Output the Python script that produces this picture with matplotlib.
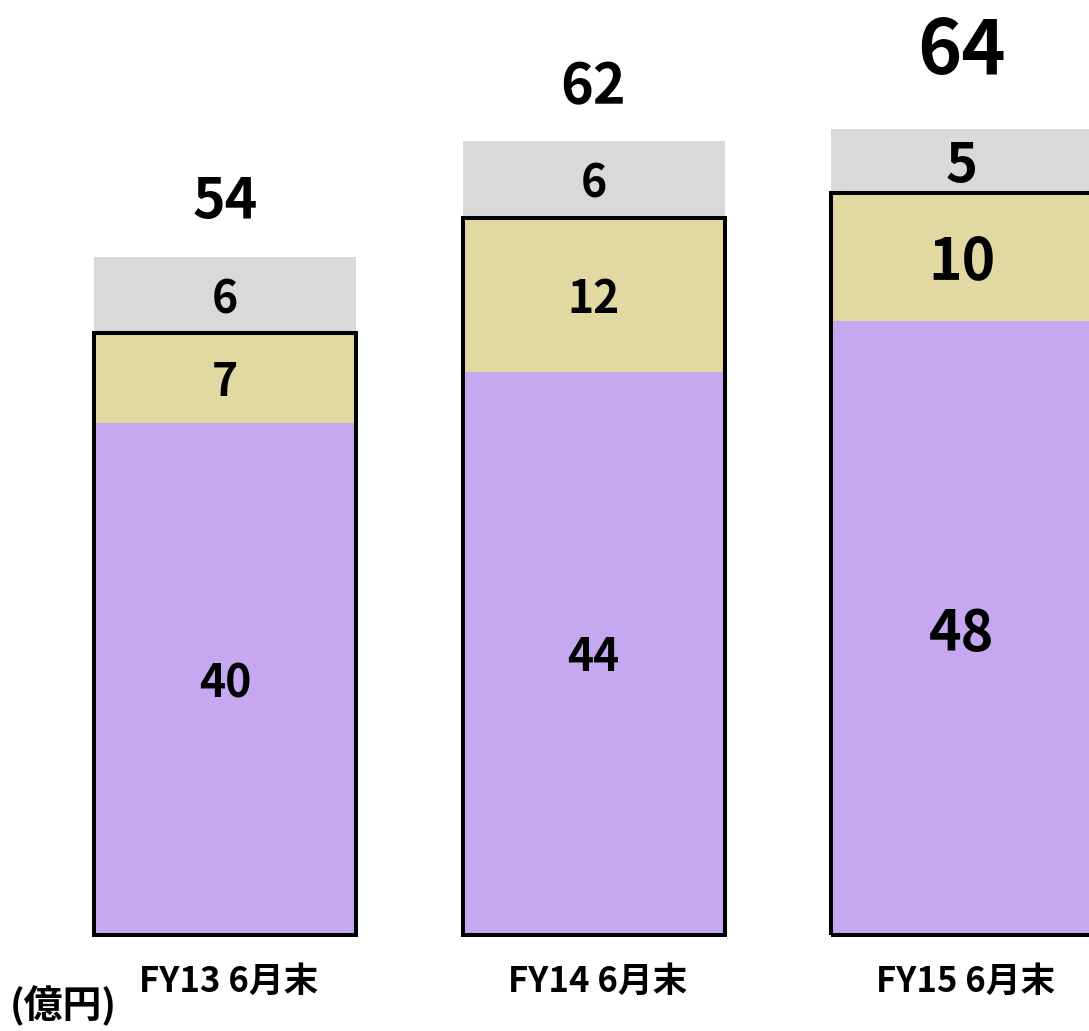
import matplotlib
matplotlib.use("Agg")
import matplotlib.pyplot as plt

plt.rcParams['font.family'] = ['Noto Sans CJK JP', 'DejaVu Sans']

categories = ["FY13 6月末", "FY14 6月末", "FY15 6月末"]
purple_vals = [40, 44, 48]
tan_vals = [7, 12, 10]
gray_vals = [6, 6, 5]
total_labels = [54, 62, 64]
unit_label = "(億円)"

purple = "#C6A8F0"
tan = "#E2D8A2"
gray = "#D9D9D9"

W, H = 1089, 1031
fig = plt.figure(figsize=(W / 100, H / 100), dpi=100)
ax = fig.add_axes([0, 0, 1, 1])
ax.set_axis_off()

px_per_unit = 12.8
base_px = 935
step_px = 368.5
c0 = 225
ax.set_xlim((0 - c0) / step_px, (W - c0) / step_px)
ax.set_ylim(-(H - base_px) / px_per_unit, base_px / px_per_unit)

x = list(range(len(categories)))
width = 262 / step_px

bottoms2 = purple_vals
bottoms3 = [p + t for p, t in zip(purple_vals, tan_vals)]
ax.bar(x, purple_vals, width, color=purple, linewidth=0)
ax.bar(x, tan_vals, width, bottom=bottoms2, color=tan, linewidth=0)
ax.bar(x, gray_vals, width, bottom=bottoms3, color=gray, linewidth=0)
ax.bar(x, bottoms3, width, fill=False, edgecolor="black", linewidth=2.9)

inner_sizes = [32, 32, 40]
seg_sizes_tan = [32, 32, 41]
seg_sizes_gray = [32, 32, 39]
total_sizes = [40, 40, 54]
total_offsets = [61, 60, 85]
wt = "bold"

for i in x:
    ax.text(i, purple_vals[i] / 2, str(purple_vals[i]), ha="center", va="center_baseline",
            fontsize=inner_sizes[i], fontweight=wt, color="black")
    ax.text(i, bottoms2[i] + tan_vals[i] / 2, str(tan_vals[i]), ha="center", va="center_baseline",
            fontsize=seg_sizes_tan[i], fontweight=wt, color="black")
    ax.text(i, bottoms3[i] + gray_vals[i] / 2, str(gray_vals[i]), ha="center", va="center_baseline",
            fontsize=seg_sizes_gray[i], fontweight=wt, color="black")
    top = bottoms3[i] + gray_vals[i]
    ax.annotate(str(total_labels[i]), (i, top), xytext=(0, total_offsets[i] * 0.72),
                textcoords="offset points", ha="center", va="center_baseline",
                fontsize=total_sizes[i], fontweight=wt, color="black")
    ax.annotate(categories[i], (i, 0), xytext=(4 * 0.72, -43 * 0.72), textcoords="offset points",
                ha="center", va="center_baseline", fontsize=25, fontweight="bold", color="black")

fig.text(10 / W, 1 - 1006 / H, unit_label, ha="left", va="center",
         fontsize=28, fontweight="bold", color="black")

fig.savefig("out.png", dpi=100)
